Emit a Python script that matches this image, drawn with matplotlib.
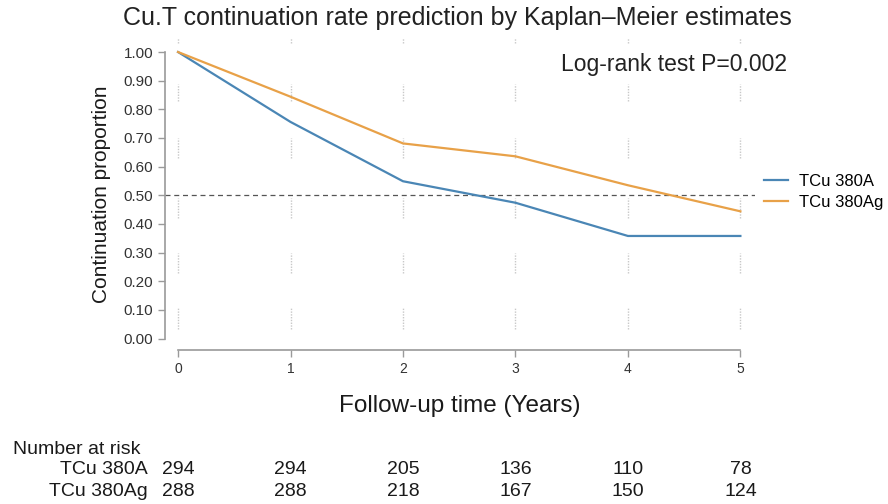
import matplotlib
matplotlib.use("Agg")
import matplotlib.pyplot as plt

years = [0, 1, 2, 3, 4, 5]
surv_380A = [1.00, 0.756, 0.549, 0.474, 0.358, 0.358]
surv_380Ag = [1.00, 0.844, 0.681, 0.636, 0.535, 0.444]
risk_380A = [294, 294, 205, 136, 110, 78]
risk_380Ag = [288, 288, 218, 167, 150, 124]
group_names = ["TCu 380A", "TCu 380Ag"]
yticks = [0.0, 0.1, 0.2, 0.3, 0.4, 0.5, 0.6, 0.7, 0.8, 0.9, 1.0]

plt.rcParams['font.family'] = ['Liberation Sans', 'DejaVu Sans']

C_A = '#4a86b5'
C_Ag = '#e8a148'
GRAY = '#9a9a9a'
TXT = '#1a1a1a'

fig = plt.figure(figsize=(8.88, 5.04), dpi=100)
ax = fig.add_axes([165/888, 1-350/504, 590/888, (350-37.7)/504])
ax.set_xlim(-0.116, 5.13)
ax.set_ylim(-0.04, 1.05)

# dotted vertical grid fragments
segs = [(0.035, 0.105), (0.23, 0.30), (0.42, 0.49), (0.63, 0.70), (0.83, 0.89), (1.03, 1.05)]
for x in years:
    for a, b in segs:
        ax.plot([x, x], [a, b], color='#c8c8c8', lw=1.0, ls=(0, (1, 1)), zorder=1)

ax.axhline(0.5, color='#555555', lw=0.9, ls=(0, (4, 3)), zorder=2)
ax.plot(years, surv_380A, color=C_A, lw=1.6, label=group_names[0], zorder=3)
ax.plot(years, surv_380Ag, color=C_Ag, lw=1.6, label=group_names[1], zorder=3)

for s in ['top', 'right']:
    ax.spines[s].set_visible(False)
ax.spines['left'].set_bounds(0, 1)
ax.spines['bottom'].set_bounds(0, 5)
for s in ['left', 'bottom']:
    ax.spines[s].set_color(GRAY)
    ax.spines[s].set_linewidth(1.2)
ax.set_yticks(yticks)
ax.set_yticklabels([f"{v:.2f}" for v in yticks], fontsize=11)
ax.set_xticks(years)
ax.set_xticklabels([str(y) for y in years], fontsize=10)
ax.tick_params(axis='both', colors=GRAY, labelcolor='#333333', length=5, width=1)

ax.set_ylabel("Continuation proportion", fontsize=15, color=TXT, labelpad=9)
ax.set_xlabel("Follow-up time (Years)", fontsize=17.5, color=TXT, labelpad=14)

fig.text(457/888, 1-18/504, "Cu.T continuation rate prediction by Kaplan\u2013Meier estimates",
         ha='center', va='center', fontsize=18, color='#222222')
fig.text(674/888, 1-64/504, "Log-rank test P=0.002", fontsize=16.5, color='#222222',
         ha='center', va='center')

leg = ax.legend(loc='center left', bbox_to_anchor=(764/888, 1-192/504), bbox_transform=fig.transFigure,
                frameon=False, fontsize=12, handlelength=1.45, handletextpad=0.65, labelspacing=0.38,
                borderpad=0, borderaxespad=0)

# number at risk table
fig.text(13/888, 1-449/504, "Number at risk", fontsize=14, ha='left', va='center', color=TXT)
for row, (name, vals) in enumerate(zip(group_names, [risk_380A, risk_380Ag])):
    ypix = 470 + row*22
    fig.text(148/888, 1-ypix/504, name, fontsize=14, ha='right', va='center', color=TXT)
    for x, v in zip(years, vals):
        xd = ax.transData.transform((x, 0))[0]
        fig.text(xd/888, 1-ypix/504, str(v), fontsize=14, ha='center', va='center', color=TXT)

fig.savefig("out.png", dpi=100)
